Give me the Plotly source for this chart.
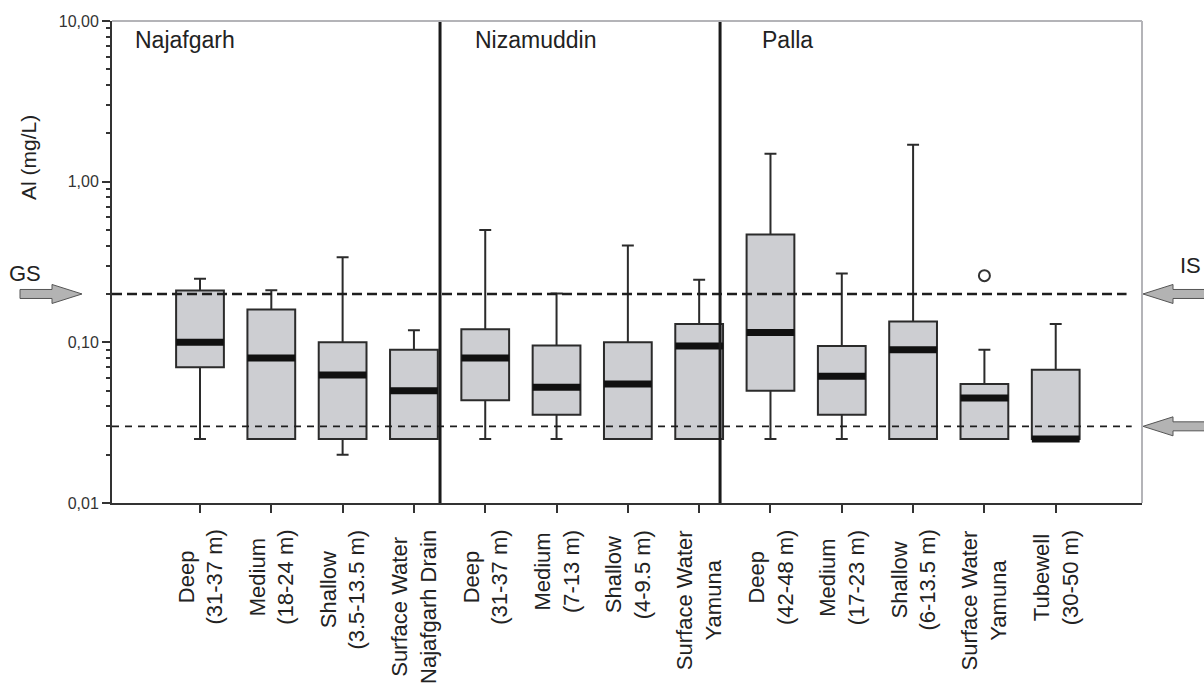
import numpy as np
import plotly.graph_objects as go

# Sampling sites / depth classes (x categories)
categories = [
    "Deep<br>(31-37 m)", "Medium<br>(18-24 m)", "Shallow<br>(3.5-13.5 m)",
    "Surface Water<br>Najafgarh Drain",
    "Deep<br>(31-37 m)", "Medium<br>(7-13 m)", "Shallow<br>(4-9.5 m)",
    "Surface Water<br>Yamuna",
    "Deep<br>(42-48 m)", "Medium<br>(17-23 m)", "Shallow<br>(6-13.5 m)",
    "Surface Water<br>Yamuna", "Tubewell<br>(30-50 m)",
]

# Box statistics, Al in mg/L
lower = [0.025, 0.025, 0.020, 0.025,
         0.025, 0.025, 0.025, 0.025,
         0.025, 0.025, 0.025, 0.025, 0.025]
q1 = [0.070, 0.025, 0.025, 0.025,
      0.0436, 0.0354, 0.025, 0.025,
      0.050, 0.0354, 0.025, 0.025, 0.025]
median = [0.100, 0.080, 0.0626, 0.050,
          0.080, 0.0525, 0.055, 0.095,
          0.115, 0.0615, 0.090, 0.045, 0.025]
q3 = [0.210, 0.160, 0.100, 0.090,
      0.1205, 0.0954, 0.100, 0.130,
      0.469, 0.095, 0.135, 0.055, 0.0676]
upper = [0.249, 0.211, 0.339, 0.119,
         0.50, 0.201, 0.40, 0.245,
         1.49, 0.268, 1.70, 0.090, 0.130]

# Outliers (category index, value)
outlier_idx = [11]
outlier_val = [0.26]

# Site groups and the reference limits
groups = ["Najafgarh", "Nizamuddin", "Palla"]
gs_limit = 0.2
is_limit = 0.03

# y-axis ticks
ytick_vals = [0.01, 0.1, 1, 10]
ytick_text = ["0,01", "0,10", "1,00", "10,00"]

FONT = "Liberation Sans, Arial, sans-serif"
INK = "#2b2b2b"
BOX_W = 0.67
SEP_X = [3.366, 7.293]          # group dividers (x units)
GROUP_X = [0.020, 0.350, 0.629]  # group title anchors (paper units)

pos = np.arange(len(categories))

fig = go.Figure()

fig.add_trace(go.Box(
    x=pos, q1=q1, median=median, q3=q3,
    lowerfence=lower, upperfence=upper,
    width=BOX_W, whiskerwidth=0.25,
    fillcolor="#cdced2", line=dict(color=INK, width=2),
    boxpoints=False, hoverinfo="skip", showlegend=False,
))

# thick median bars
mx, my = [], []
for p, m in zip(pos, median):
    mx += [p - BOX_W / 2, p + BOX_W / 2, None]
    my += [m, m, None]
fig.add_trace(go.Scatter(
    x=mx, y=my, mode="lines",
    line=dict(color="#111111", width=7),
    hoverinfo="skip", showlegend=False,
))

# outliers
fig.add_trace(go.Scatter(
    x=[pos[i] for i in outlier_idx], y=outlier_val, mode="markers",
    marker=dict(symbol="circle-open", size=11, color="#333333",
                line=dict(width=2, color="#333333")),
    hoverinfo="skip", showlegend=False,
))

shapes = []
# limit lines
shapes.append(dict(type="line", xref="paper", yref="y", x0=0, x1=0.985,
                   y0=gs_limit, y1=gs_limit,
                   line=dict(color="#1e1e1e", width=2.5, dash="10px,5px")))
shapes.append(dict(type="line", xref="paper", yref="y", x0=0, x1=0.99,
                   y0=is_limit, y1=is_limit,
                   line=dict(color="#1e1e1e", width=1.6, dash="7px,6px")))
# group dividers
for sx in SEP_X:
    shapes.append(dict(type="line", xref="x", yref="paper", x0=sx, x1=sx,
                       y0=0, y1=1, line=dict(color="#1a1a1a", width=3)))
# top and right frame
shapes.append(dict(type="line", xref="paper", yref="paper", x0=0, x1=1,
                   y0=1, y1=1, line=dict(color="#b4b4b8", width=2)))
shapes.append(dict(type="line", xref="paper", yref="paper", x0=1, x1=1,
                   y0=0, y1=1, line=dict(color="#b4b4b8", width=2)))

# arrows pointing at the limit lines
left_arrow = "M-92,4.5 L-60,4.5 L-60,9.5 L-30,0 L-60,-9.5 L-60,-4.5 L-92,-4.5 Z"
right_arrow = "M1,0 L31,9.5 L31,4.5 L63,4.5 L63,-4.5 L31,-4.5 L31,-9.5 Z"
arrow_style = dict(fillcolor="#b3b3b3", line=dict(color="#555555", width=1))
shapes.append(dict(type="path", path=left_arrow, xref="paper", yref="y",
                   xsizemode="pixel", ysizemode="pixel", xanchor=0,
                   yanchor=gs_limit, **arrow_style))
for lim in (gs_limit, is_limit):
    shapes.append(dict(type="path", path=right_arrow, xref="paper", yref="y",
                       xsizemode="pixel", ysizemode="pixel", xanchor=1,
                       yanchor=lim, **arrow_style))

annotations = []
for p, lab in zip(pos, categories):
    annotations.append(dict(
        x=p, y=0, xref="x", yref="paper", text=lab, showarrow=False,
        textangle=-90, xanchor="center", yanchor="top", align="center",
        yshift=-25, font=dict(family=FONT, size=22, color="#222222"),
    ))
for gx, g in zip(GROUP_X, groups):
    annotations.append(dict(
        x=gx, y=1, xref="paper", yref="paper", text=g, showarrow=False,
        xanchor="left", yanchor="top", yshift=-4,
        font=dict(family=FONT, size=23, color="#222222"),
    ))
annotations.append(dict(
    x=-0.0806, y=0.718, xref="paper", yref="paper", text="Al (mg/L)",
    showarrow=False, textangle=-90, xanchor="center", yanchor="middle",
    font=dict(family=FONT, size=21, color="#222222"),
))
annotations.append(dict(
    x=-0.0845, y=np.log10(gs_limit), xref="paper", yref="y", text="GS",
    showarrow=False, xanchor="center", yanchor="bottom", yshift=6,
    font=dict(family=FONT, size=22, color="#222222"),
))
annotations.append(dict(
    x=1.0475, y=np.log10(gs_limit), xref="paper", yref="y", text="IS",
    showarrow=False, xanchor="center", yanchor="bottom", yshift=14,
    font=dict(family=FONT, size=22, color="#222222"),
))

minor_vals = [d * 10.0 ** e for e in (-2, -1, 0) for d in range(2, 10)]

fig.update_layout(
    width=1204, height=686,
    margin=dict(l=112, r=62, t=21, b=183),
    paper_bgcolor="white", plot_bgcolor="white",
    shapes=shapes, annotations=annotations,
    font=dict(family=FONT, color="#333333"),
    xaxis=dict(
        range=[-1.234, 13.21], tickvals=list(pos), showticklabels=False,
        ticks="outside", ticklen=8, tickwidth=1.5, tickcolor="#333333",
        showline=True, linecolor="#333333", linewidth=2,
        showgrid=False, zeroline=False,
    ),
    yaxis=dict(
        type="log", range=[-2, 1],
        tickvals=ytick_vals, ticktext=ytick_text,
        ticks="outside", ticklen=8, tickwidth=1.5, tickcolor="#333333",
        tickfont=dict(family=FONT, size=16, color="#333333"),
        minor=dict(tickvals=minor_vals, ticks="outside", ticklen=4,
                   tickwidth=1.5, tickcolor="#333333", showgrid=False),
        showline=True, linecolor="#333333", linewidth=2,
        showgrid=False, zeroline=False,
    ),
)

fig.write_html("out.html")
